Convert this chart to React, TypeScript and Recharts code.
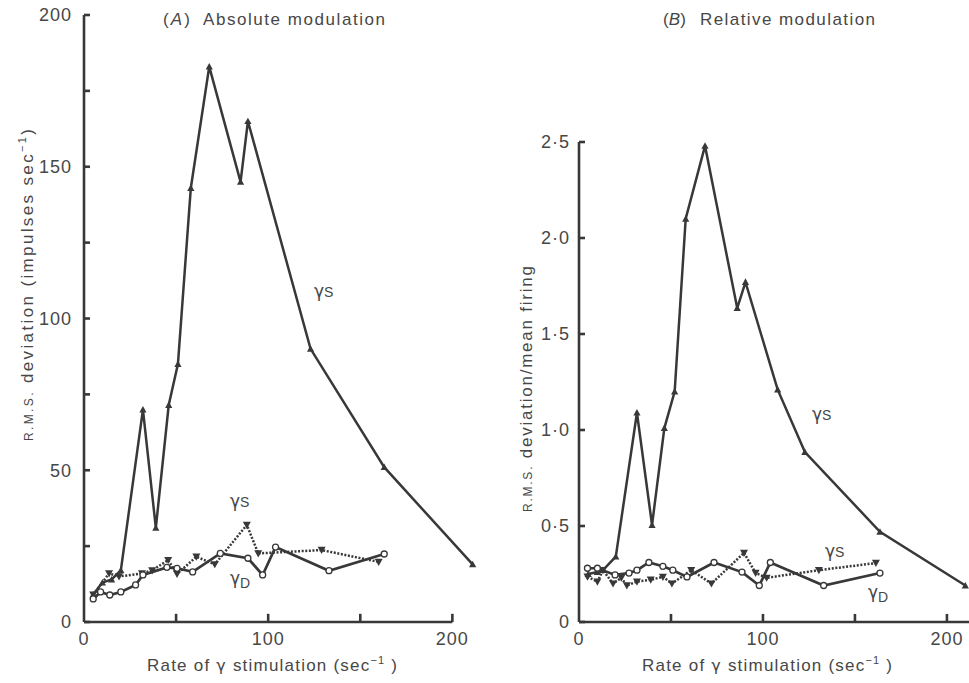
import React from 'react';
import { LineChart, Line, XAxis, YAxis, ReferenceLine } from 'recharts';

const FONT = '"Liberation Sans", Arial, Helvetica, sans-serif';
const GFONT = '"DejaVu Sans", "Liberation Sans", sans-serif';
const INK = '#383838';
const TEXT = '#474747';

// ---------- (A) Absolute modulation ----------
const A_GS_MAIN_X = [5, 10, 15, 20, 32, 39, 46, 51, 58, 68, 85, 89, 123, 163, 211];
const A_GS_MAIN_Y = [9, 13, 14, 17, 70, 31, 71.5, 85, 143, 183, 145, 165, 90, 51, 19];

const A_GS_DOT_X = [5, 13.6, 19, 31.5, 37, 45.7, 50.5, 61, 71, 88.4, 94.6, 129, 160];
const A_GS_DOT_Y = [9, 16, 15, 16, 17, 20.4, 15.8, 21.5, 19, 32, 22.6, 23.7, 19.8];

const A_GD_X = [5, 9, 14, 20, 28, 32, 45, 50.5, 59, 74, 89, 97, 104, 133, 163];
const A_GD_Y = [7.6, 9.9, 8.9, 9.9, 12.2, 15.5, 18, 17.7, 16.5, 22.6, 21, 15.5, 24.7, 16.9, 22.4];

// ---------- (B) Relative modulation ----------
const B_GS_MAIN_X = [5, 10, 13, 20, 31.5, 39.7, 46.4, 52, 58, 68.5, 86, 90.5, 108, 122.8, 163.6, 210];
const B_GS_MAIN_Y = [0.25, 0.26, 0.27, 0.34, 1.09, 0.505, 1.01, 1.2, 2.1, 2.48, 1.635, 1.77, 1.21, 0.885, 0.47, 0.19];

const B_GS_DOT_X = [4.6, 10, 13, 18.5, 23, 26, 31.5, 39, 45.6, 50.5, 61, 72, 89.7, 96, 102, 130.4, 161.4];
const B_GS_DOT_Y = [0.236, 0.21, 0.27, 0.2, 0.23, 0.19, 0.21, 0.22, 0.235, 0.2, 0.27, 0.2, 0.36, 0.255, 0.23, 0.27, 0.307];

const B_GD_X = [4.6, 10, 19.6, 27.2, 31.5, 38, 45.6, 51, 58.7, 73.4, 88.6, 98, 104, 133, 163.6];
const B_GD_Y = [0.28, 0.28, 0.245, 0.255, 0.27, 0.31, 0.29, 0.27, 0.235, 0.31, 0.26, 0.19, 0.31, 0.19, 0.255];

// ---------- ticks ----------
const X_TICKS = [0, 50, 100, 150, 200];
const X_MARKS = [50, 100, 150, 200];
const A_Y_TICKS = [0, 25, 50, 75, 100, 125, 150, 175, 200];
const B_Y_TICKS = [0, 0.5, 1, 1.5, 2, 2.5];

const zip = (xs: number[], ys: number[]) => xs.map((x, i) => ({ x, y: ys[i] }));

const aMain = zip(A_GS_MAIN_X, A_GS_MAIN_Y);
const aDot = zip(A_GS_DOT_X, A_GS_DOT_Y);
const aGd = zip(A_GD_X, A_GD_Y);
const bMain = zip(B_GS_MAIN_X, B_GS_MAIN_Y);
const bDot = zip(B_GS_DOT_X, B_GS_DOT_Y);
const bGd = zip(B_GD_X, B_GD_Y);

// tick-mark length, expressed in each panel's y units (~8 px)
const A_TICK_LEN = 2.7;
const B_TICK_LEN = 0.042;

const TriUp = (props: any) => {
  const { cx, cy, index } = props;
  if (cx == null || cy == null) return <g key={`u${index}`} />;
  const s = 3.6;
  return <path key={`u${index}`} d={`M${cx},${cy - s} L${cx + s},${cy + s * 0.8} L${cx - s},${cy + s * 0.8} Z`} fill={INK} />;
};
const TriDown = (props: any) => {
  const { cx, cy, index } = props;
  if (cx == null || cy == null) return <g key={`d${index}`} />;
  const s = 4;
  return <path key={`d${index}`} d={`M${cx},${cy + s} L${cx + s},${cy - s * 0.8} L${cx - s},${cy - s * 0.8} Z`} fill={INK} />;
};
const OpenCircle = (props: any) => {
  const { cx, cy, index } = props;
  if (cx == null || cy == null) return <g key={`c${index}`} />;
  return <circle key={`c${index}`} cx={cx} cy={cy} r={3} fill="#fff" stroke={INK} strokeWidth={1.3} />;
};

const tickStyle = { fill: TEXT, fontSize: 18, fontFamily: FONT, letterSpacing: 1 };
const axisStroke = { stroke: INK, strokeWidth: 2.6 };

const xFmt = (v: number) => (v % 100 === 0 ? String(v) : '');
const aYFmt = (v: number) => (v % 50 === 0 ? String(v) : '');
const bYFmt = (v: number) => (v === 0 ? '0' : v.toFixed(1).replace('.', '·'));

const G = ({ x, y, sub }: { x: number; y: number; sub: string }) => (
  <text x={x} y={y} fill={TEXT} fontFamily={FONT} fontSize={18}>
    <tspan fontFamily={GFONT} fontSize={17}>γ</tspan>
    <tspan fontSize={14} dy={sub === 'D' ? 4 : 0}>{sub}</tspan>
  </text>
);

const XLabel = ({ cx }: { cx: number }) => (
  <text x={cx - 125} y={671} fill={TEXT} fontFamily={FONT} fontSize={17} textLength={250} lengthAdjust="spacing">
    Rate of <tspan fontFamily={GFONT} fontSize={16}>γ</tspan> stimulation (sec<tspan fontSize={11} dy={-7}>−1</tspan><tspan dy={7}> )</tspan>
  </text>
);

export default function App() {
  return (
    <div style={{ position: 'absolute', left: 0, top: 0, width: 969, height: 683, background: '#fff', overflow: 'hidden' }}>
      {/* Panel A */}
      <div style={{ position: 'absolute', left: 0, top: 0 }}>
        <LineChart width={480} height={683} margin={{ top: 15, right: 0, bottom: 0, left: 0 }}>
          <XAxis
            type="number"
            dataKey="x"
            domain={[0, 215]}
            ticks={X_TICKS}
            tickFormatter={xFmt}
            axisLine={false}
            tickLine={false}
            tickSize={0}
            tickMargin={10}
            tick={tickStyle}
            height={61}
            interval={0}
          />
          <YAxis
            type="number"
            domain={[0, 200]}
            ticks={A_Y_TICKS}
            tickFormatter={aYFmt}
            axisLine={axisStroke}
            tickLine={axisStroke}
            tickSize={-6}
            tickMargin={18}
            tick={tickStyle}
            width={84}
            interval={0}
          />
          <ReferenceLine segment={[{ x: 0, y: 0 }, { x: 200, y: 0 }]} stroke={INK} strokeWidth={2.6} />
          {X_MARKS.map((m) => (
            <ReferenceLine key={`am${m}`} segment={[{ x: m, y: 0 }, { x: m, y: A_TICK_LEN }]} stroke={INK} strokeWidth={2.6} />
          ))}
          <Line data={aMain} dataKey="y" type="linear" stroke={INK} strokeWidth={2.5} dot={TriUp} isAnimationActive={false} />
          <Line data={aDot} dataKey="y" type="linear" stroke={INK} strokeWidth={2.5} strokeDasharray="2 1.6" dot={TriDown} isAnimationActive={false} />
          <Line data={aGd} dataKey="y" type="linear" stroke={INK} strokeWidth={2.7} dot={OpenCircle} isAnimationActive={false} />
        </LineChart>
      </div>

      {/* Panel B */}
      <div style={{ position: 'absolute', left: 490, top: 0 }}>
        <LineChart width={479} height={683} margin={{ top: 142, right: 0, bottom: 0, left: 0 }}>
          <XAxis
            type="number"
            dataKey="x"
            domain={[0, 212]}
            ticks={X_TICKS}
            tickFormatter={xFmt}
            axisLine={axisStroke}
            tickLine={false}
            tickSize={0}
            tickMargin={10}
            tick={tickStyle}
            height={61}
            interval={0}
          />
          <YAxis
            type="number"
            domain={[0, 2.5]}
            ticks={B_Y_TICKS}
            tickFormatter={bYFmt}
            axisLine={axisStroke}
            tickLine={axisStroke}
            tickSize={-6}
            tickMargin={15}
            tick={tickStyle}
            width={89}
            interval={0}
          />
          {X_MARKS.map((m) => (
            <ReferenceLine key={`bm${m}`} segment={[{ x: m, y: 0 }, { x: m, y: B_TICK_LEN }]} stroke={INK} strokeWidth={2.6} />
          ))}
          <Line data={bMain} dataKey="y" type="linear" stroke={INK} strokeWidth={2.5} dot={TriUp} isAnimationActive={false} />
          <Line data={bDot} dataKey="y" type="linear" stroke={INK} strokeWidth={2.5} strokeDasharray="2 1.6" dot={TriDown} isAnimationActive={false} />
          <Line data={bGd} dataKey="y" type="linear" stroke={INK} strokeWidth={2.7} dot={OpenCircle} isAnimationActive={false} />
        </LineChart>
      </div>

      {/* Text overlay */}
      <svg width={969} height={683} style={{ position: 'absolute', left: 0, top: 0, pointerEvents: 'none' }}>
        <text x={163} y={25} fill={TEXT} fontFamily={FONT} fontSize={17} textLength={27} lengthAdjust="spacing">
          (<tspan fontStyle="italic">A</tspan>)
        </text>
        <text x={203} y={25} fill={TEXT} fontFamily={FONT} fontSize={17} textLength={182} lengthAdjust="spacing">
          Absolute modulation
        </text>
        <text x={663} y={25} fill={TEXT} fontFamily={FONT} fontSize={17} textLength={23} lengthAdjust="spacing">
          (<tspan fontStyle="italic">B</tspan>)
        </text>
        <text x={700} y={25} fill={TEXT} fontFamily={FONT} fontSize={17} textLength={175} lengthAdjust="spacing">
          Relative modulation
        </text>

        <text transform="translate(33,441) rotate(-90)" fill={TEXT} fontFamily={FONT} fontSize={17} textLength={312} lengthAdjust="spacing">
          <tspan fontSize={12}>R.M.S.</tspan> deviation (impulses sec<tspan fontSize={11} dy={-7}>−1</tspan><tspan dy={7}>)</tspan>
        </text>
        <text transform="translate(532,512) rotate(-90)" fill={TEXT} fontFamily={FONT} fontSize={17} textLength={246} lengthAdjust="spacing">
          <tspan fontSize={12}>R.M.S.</tspan> deviation/mean firing
        </text>

        <XLabel cx={272} />
        <XLabel cx={767} />

        <G x={314} y={297} sub="S" />
        <G x={230} y={507} sub="S" />
        <G x={230} y={584} sub="D" />
        <G x={812} y={420} sub="S" />
        <G x={825} y={557} sub="S" />
        <G x={868} y={598} sub="D" />
      </svg>
    </div>
  );
}
